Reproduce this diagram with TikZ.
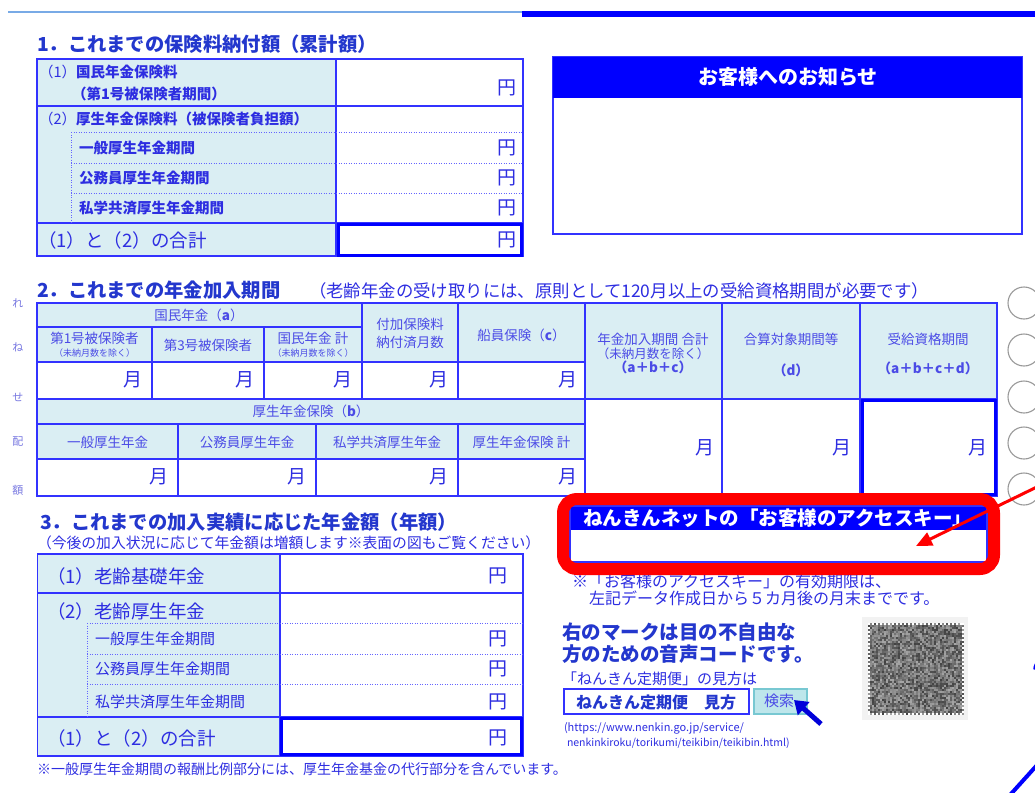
\documentclass[tikz,border=0pt]{standalone}
\usepackage{fontspec}
\setmainfont{Noto Sans CJK JP}
\usetikzlibrary{arrows.meta}
\definecolor{tblue}{RGB}{0,0,255}
\definecolor{bline}{RGB}{50,50,255}
\definecolor{ttl}{RGB}{35,55,205}
\definecolor{txt}{RGB}{45,45,225}
\definecolor{htxt}{RGB}{75,75,230}
\definecolor{lfill}{RGB}{218,238,243}
\definecolor{topline}{RGB}{120,170,230}
\definecolor{rred}{RGB}{255,0,0}
\definecolor{btnfill}{RGB}{190,230,235}
\definecolor{btnline}{RGB}{120,200,210}
\definecolor{sidech}{RGB}{120,120,225}
\newcommand\FS[1]{\fontsize{#1}{#1}\selectfont}
\begin{document}
\begin{tikzpicture}[x=1pt,y=-1pt,
  every node/.style={inner sep=0pt,outer sep=0pt},
  gline/.style={draw=bline,line width=1.1pt},
  dots/.style={draw=bline!75,line width=0.8pt,dash pattern=on 1.2pt off 1.3pt},
  thickbox/.style={draw=tblue,line width=3pt},
  sectitle/.style={text=ttl,font=\FS{19.3}\bfseries,anchor=west},
  lbl/.style={text=txt,font=\FS{14.5}\bfseries,anchor=west},
  lblr/.style={text=txt,font=\FS{15},anchor=west},
  big/.style={text=txt,font=\FS{18.5},anchor=west},
  yen/.style={text=txt,font=\FS{19},anchor=east},
  hdr/.style={text=htxt,font=\FS{13.5},align=center},
  tiny/.style={text=htxt,font=\FS{9}},
  note/.style={text=txt,font=\FS{16},anchor=west},
  sidechar/.style={text=sidech,font=\FS{11}}]
\useasboundingbox (0,0) rectangle (1035,792);
\clip (0,0) rectangle (1035,792);
\fill[white] (0,0) rectangle (1035,792);

% top rules
\draw[topline,line width=1.5pt] (8,12) -- (522,12);
\fill[tblue] (522,11) rectangle (1035,17);

% ===== Section 1 =====
\node[sectitle] (t1) at (37,44) {1．これまでの保険料納付額（累計額）};
\fill[lfill] (37,59) rectangle (336,256);
\draw[gline] (37,59) rectangle (523,256);
\draw[gline] (336,59) -- (336,256);
\draw[gline] (37,106) -- (523,106);
\draw[gline] (37,223) -- (523,223);
\draw[dots] (71,132) -- (523,132) (71,163) -- (523,163) (71,193) -- (523,193) (71,132) -- (71,223);
\draw[thickbox] (338,224.5) rectangle (521.5,255.5);

\node[lbl] (s1a) at (39,72) {{\mdseries（1）}国民年金保険料};
\node[lbl] (s1b) at (72,94) {（第1号被保険者期間）};
\node[lbl] (s1c) at (39,119) {{\mdseries（2）}厚生年金保険料（被保険者負担額）};
\node[lbl] (s1d) at (79,148) {一般厚生年金期間};
\node[lbl] (s1e) at (79,178) {公務員厚生年金期間};
\node[lbl] (s1f) at (79,208) {私学共済厚生年金期間};
\node[big] (s1g) at (38,240) {（1）と（2）の合計};
\node[yen] (y1a) at (516,88) {円};
\node[yen] (y1b) at (516,148) {円};
\node[yen] (y1c) at (516,178) {円};
\node[yen] (y1d) at (516,208) {円};
\node[yen] (y1e) at (516,240) {円};

% ===== Notice box =====
\draw[gline] (553,57) rectangle (1022,234);
\fill[tblue] (553,57) rectangle (1022,98);
\node[text=white,font=\FS{20}\bfseries] (ntc) at (788,77) {お客様へのお知らせ};

% ===== Section 2 =====
\node[sectitle] (t2) at (37,290) {2．これまでの年金加入期間};
\node[text=txt,font=\FS{17.4},anchor=west] (t2s) at (309,291) {（老齢年金の受け取りには、原則として120月以上の受給資格期間が必要です）};

\fill[lfill] (37,303) rectangle (585,362);
\fill[lfill] (585,303) rectangle (997,399);
\fill[lfill] (37,399) rectangle (585,459);
\draw[gline] (37,303) rectangle (997,496);
\draw[gline] (37,327) -- (362,327);
\draw[gline] (37,362) -- (585,362);
\draw[gline] (152,327) -- (152,399) (264,327) -- (264,399) (362,303) -- (362,399) (458,303) -- (458,399);
\draw[gline] (585,303) -- (585,496) (722,303) -- (722,496) (860,303) -- (860,496);
\draw[gline] (37,399) -- (997,399);
\draw[gline] (37,424) -- (585,424) (37,459) -- (585,459);
\draw[gline] (178,424) -- (178,496) (316,424) -- (316,496) (458,424) -- (458,496);
\draw[thickbox] (862,400.5) rectangle (995.5,494.5);

\node[hdr] (h1) at (199,315) {国民年金（{\bfseries a}）};
\node[hdr] (h2) at (94.5,338) {第1号被保険者};
\node[tiny] (h2b) at (94.5,353) {（未納月数を除く）};
\node[hdr] (h3) at (208,345) {第3号被保険者};
\node[hdr] (h4) at (313,338) {国民年金 計};
\node[tiny] (h4b) at (313,353) {（未納月数を除く）};
\node[hdr] (h5) at (410,324) {付加保険料};
\node[hdr] (h5b) at (410,342) {納付済月数};
\node[hdr] (h6) at (521.5,335) {船員保険（{\bfseries c}）};
\node[hdr] (h7) at (653,339) {年金加入期間 合計};
\node[hdr,font=\FS{12.5}] (h7b) at (653,354) {（未納月数を除く）};
\node[hdr,font=\FS{13.5}\bfseries] (h7c) at (653,367) {（a＋b＋c）};
\node[hdr] (h8) at (791,339) {合算対象期間等};
\node[hdr,font=\FS{13.5}\bfseries] (h8b) at (791,370) {（d）};
\node[hdr] (h9) at (928,339) {受給資格期間};
\node[hdr,font=\FS{13.5}\bfseries] (h9b) at (928,368) {（a＋b＋c＋d）};
\node[hdr] (h10) at (311,411) {厚生年金保険（{\bfseries b}）};
\node[hdr] (h11) at (107.5,442) {一般厚生年金};
\node[hdr] (h12) at (247,442) {公務員厚生年金};
\node[hdr] (h13) at (387,442) {私学共済厚生年金};
\node[hdr] (h14) at (521.5,442) {厚生年金保険 計};

\node[yen] (m1) at (142,380) {月};
\node[yen] (m2) at (254,380) {月};
\node[yen] (m3) at (352,380) {月};
\node[yen] (m4) at (448,380) {月};
\node[yen] (m5) at (577,380) {月};
\node[yen] (m6) at (168,477) {月};
\node[yen] (m7) at (306,477) {月};
\node[yen] (m8) at (448,477) {月};
\node[yen] (m9) at (577,477) {月};
\node[yen] (m10) at (714,448) {月};
\node[yen] (m11) at (851,448) {月};
\node[yen] (m12) at (987,448) {月};

% side characters
\node[sidechar] (c1) at (18,303) {れ};
\node[sidechar] (c2) at (18,347) {ね};
\node[sidechar] (c3) at (18,397) {せ};
\node[sidechar] (c4) at (18,442) {配};
\node[sidechar] (c5) at (18,490) {額};

% right circles
\foreach \cy in {303,350,397,443,489}
  \draw[gray!80,line width=1.1pt] (1024,\cy) circle (16);

% ===== Section 3 =====
\node[sectitle] (t3) at (40,522) {3．これまでの加入実績に応じた年金額（年額）};
\node[text=txt,font=\FS{14.8},anchor=west] (t3s) at (37,543) {（今後の加入状況に応じて年金額は増額します※表面の図もご覧ください）};
\fill[lfill] (37.5,554) rectangle (280,756);
\draw[gline] (37.5,554) rectangle (523,756);
\draw[gline] (280,554) -- (280,756);
\draw[gline] (37.5,593) -- (523,593);
\draw[gline] (37.5,717) -- (523,717);
\draw[dots] (87,623) -- (523,623) (87,654) -- (523,654) (87,684) -- (523,684) (87,623) -- (87,717);
\draw[thickbox] (281.5,718.5) rectangle (521.5,754.5);

\node[big] (s3a) at (47,576) {（1）老齢基礎年金};
\node[big] (s3b) at (47,611) {（2）老齢厚生年金};
\node[lblr] (s3c) at (95,639) {一般厚生年金期間};
\node[lblr] (s3d) at (95,669) {公務員厚生年金期間};
\node[lblr] (s3e) at (95,702) {私学共済厚生年金期間};
\node[big] (s3f) at (47,738) {（1）と（2）の合計};
\node[yen] (y3a) at (507,576) {円};
\node[yen] (y3b) at (507,639) {円};
\node[yen] (y3c) at (507,669) {円};
\node[yen] (y3d) at (507,702) {円};
\node[yen] (y3e) at (507,738) {円};
\node[text=txt,font=\FS{14},anchor=west] (fn) at (37,769) {※一般厚生年金期間の報酬比例部分には、厚生年金基金の代行部分を含んでいます。};

% ===== Access key box =====
\node[note] (k1) at (572,581) {※「お客様のアクセスキー」の有効期限は、};
\node[note] (k2) at (589,598) {左記データ作成日から５カ月後の月末までです。};
\fill[white] (569,505) rectangle (988,563);
\fill[tblue] (569,505) rectangle (988,530);
\draw[gline] (570,506) rectangle (987,562);
\node[text=white,font=\FS{19.5}\bfseries,anchor=west] (kh) at (583,518) {ねんきんネットの「お客様のアクセスキー」};
\draw[rred,line width=12pt,rounded corners=14pt] (563,499) rectangle (994,569);

% ===== Voice code text =====
\node[text=ttl,font=\FS{19.5}\bfseries,anchor=west] (v1) at (562,632) {右のマークは目の不自由な};
\node[text=ttl,font=\FS{19.5}\bfseries,anchor=west] (v2) at (562,654) {方のための音声コードです。};
\node[text=txt,font=\FS{15},anchor=west] (v3) at (562,679) {「ねんきん定期便」の見方は};
\draw[gline,line width=1.4pt] (564,689) rectangle (749,714);
\node[text=ttl,font=\FS{16}\bfseries,anchor=west] (v4) at (576,702) {ねんきん定期便\quad 見方};
\draw[fill=btnfill,draw=btnline,line width=1.5pt] (754,689) rectangle (807,714);
\node[text=htxt,font=\FS{15}] (v5) at (779,701) {検索};
\coordinate (ctail) at (821,724);
\coordinate (ctip) at (794,700);
\draw[tblue!85!black,line width=5pt,-{Triangle[length=13pt,width=17pt]}] (ctail) -- (ctip);
\node[text=txt,font=\FS{11},anchor=west] (u1) at (564,728) {(https://www.nenkin.go.jp/service/};
\node[text=txt,font=\FS{10.5},anchor=west] (u2) at (567,743) {nenkinkiroku/torikumi/teikibin/teikibin.html)};

% voice code square
\fill[gray!10] (862,617) rectangle (968,720);
\fill[gray!70] (868,623) rectangle (964,715);
\pgfmathsetseed{11}
\foreach \i in {0,...,47} {
  \foreach \j in {0,...,45} {
    \pgfmathtruncatemacro\g{35+40*rnd}
    \fill[black!\g] (868+2*\i,623+2*\j) rectangle ++(2,2);
  }
}
\foreach \i in {0,...,23} {
  \fill[white] (868+4*\i,623) rectangle ++(2,2);
  \fill[white] (868+4*\i,713) rectangle ++(2,2);
}
\foreach \j in {0,...,22} {
  \fill[white] (868,623+4*\j) rectangle ++(2,2);
  \fill[white] (962,623+4*\j) rectangle ++(2,2);
}

% decorations at right edge
\draw[tblue,line width=2.5pt] (1040,660) arc (240:180:11);
\draw[tblue,line width=4pt] (1010,795) -- (1038,764);

% red arrow
\coordinate (rs) at (1045,483);
\coordinate (rt) at (916,546);
\draw[rred,line width=3pt,-{Triangle[length=16pt,width=14pt]}] (rs) -- (rt);
\end{tikzpicture}
\end{document}
